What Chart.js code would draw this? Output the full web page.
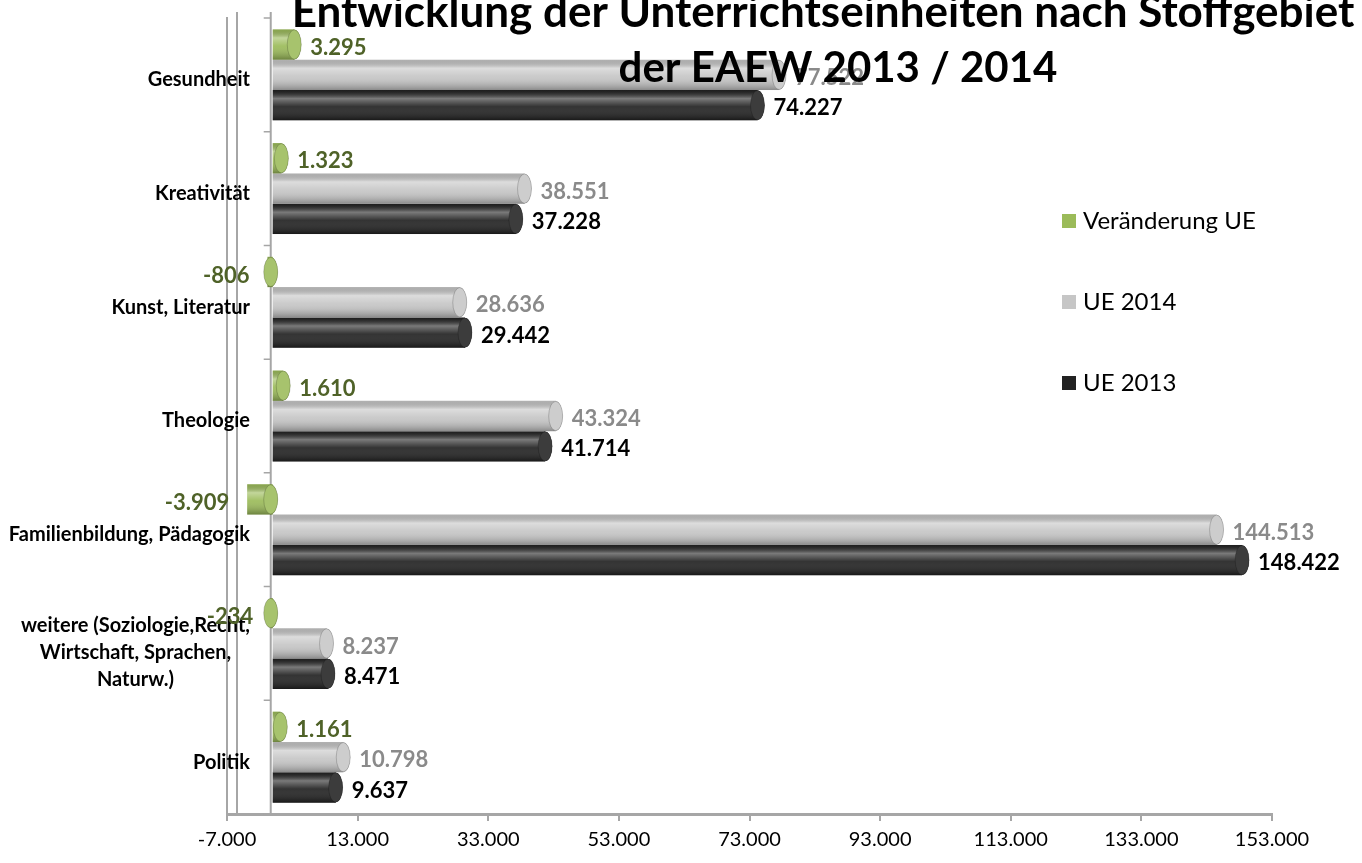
<!DOCTYPE html>
<html lang="de">
<head>
<meta charset="utf-8">
<title>Entwicklung der Unterrichtseinheiten</title>
<script src="https://cdn.jsdelivr.net/npm/chart.js@4.4.1/dist/chart.umd.min.js"></script>
<style>
    html, body { margin: 0; padding: 0; background: #fff; }
    #wrap { width: 1362px; height: 863px; position: relative; }
</style>
</head>
<body>
<div id="wrap"><canvas id="ueChart"></canvas></div>
<script>
const categories = [
    'Gesundheit',
    'Kreativität',
    'Kunst, Literatur',
    'Theologie',
    'Familienbildung, Pädagogik',
    ['weitere (Soziologie,Recht,', 'Wirtschaft, Sprachen,', 'Naturw.)'],
    'Politik'
];
const changeUE = [3295, 1323, -806, 1610, -3909, -234, 1161];
const ue2014 = [77522, 38551, 28636, 43324, 144513, 8237, 10798];
const ue2013 = [74227, 37228, 29442, 41714, 148422, 8471, 9637];
const xTickValues = [-7000, 13000, 33000, 53000, 73000, 93000, 113000, 133000, 153000];

const titleLines = ['Entwicklung der Unterrichtseinheiten nach Stoffgebiet', 'der EAEW 2013 / 2014'];
const seriesNames = ['Veränderung UE', 'UE 2014', 'UE 2013'];
const barColors = ['#9BBB59', '#C6C6C6', '#222222'];
const labelColors = ['#4F6228', '#8A8A8A', '#000000'];

// German number format: 148422 -> 148.422
function fmtDE(v) {
    const s = Math.abs(v).toString().replace(/\B(?=(\d{3})+(?!\d))/g, '.');
    return (v < 0 ? '-' : '') + s;
}

// back wall + zero line with category ticks (3D look)
const frameLines = {
    id: 'frameLines',
    beforeDatasetsDraw(chart) {
        const ctx = chart.ctx;
        const area = chart.chartArea;
        const xs = chart.scales.x;
        const ys = chart.scales.y;
        const zero = xs.getPixelForValue(0) - 2;
        ctx.save();
        ctx.strokeStyle = '#A6A6A6';
        ctx.lineWidth = 2;
        ctx.beginPath();
        ctx.moveTo(area.left + 10, area.top - 6);
        ctx.lineTo(area.left + 10, area.bottom);
        ctx.moveTo(zero, area.top - 6);
        ctx.lineTo(zero, area.bottom);
        ctx.stroke();
        const half = (ys.getPixelForValue(1) - ys.getPixelForValue(0)) / 2;
        ctx.lineWidth = 1.5;
        ctx.beginPath();
        for (let i = 0; i <= categories.length; i++) {
            const yy = ys.getPixelForValue(i) - half;
            ctx.moveTo(zero - 7, yy);
            ctx.lineTo(zero, yy);
        }
        ctx.stroke();

        // category labels: right aligned block, wrapped lines centred on each other
        ctx.fillStyle = '#000';
        ctx.font = 'bold 20px Lato';
        ctx.textBaseline = 'middle';
        ctx.textAlign = 'center';
        categories.forEach((lab, i) => {
            const lines = Array.isArray(lab) ? lab : [lab];
            const w = Math.max(...lines.map(t => ctx.measureText(t).width));
            const cx = 250 - w / 2;
            const cy = ys.getPixelForValue(i) + 5 + (lines.length > 1 ? 4 : 0);
            lines.forEach((t, k) => {
                ctx.fillText(t, cx, cy + (k - (lines.length - 1) / 2) * 27);
            });
        });
        ctx.restore();
    }
};

// cylinder shading on top of the plain bars
const cylinderShade = {
    id: 'cylinderShade',
    afterDatasetsDraw(chart) {
        const ctx = chart.ctx;
        chart.data.datasets.forEach((ds, i) => {
            chart.getDatasetMeta(i).data.forEach(bar => {
                const p = bar.getProps(['x', 'y', 'base', 'height'], true);
                const left = Math.min(p.x, p.base), right = Math.max(p.x, p.base);
                const top = p.y - p.height / 2;
                const shade = (x0, y0) => {
                    const g = ctx.createLinearGradient(0, top, 0, top + p.height);
                    g.addColorStop(0, 'rgba(0,0,0,0.10)');
                    g.addColorStop(0.28, 'rgba(255,255,255,0.40)');
                    g.addColorStop(0.55, 'rgba(255,255,255,0.08)');
                    g.addColorStop(1, 'rgba(0,0,0,0.30)');
                    return g;
                };
                ctx.save();
                // cylinder body
                ctx.fillStyle = shade();
                ctx.fillRect(left, top, Math.max(right - left, 1), p.height);
                // visible end cap on the right side
                const capX = p.x >= p.base ? right : right - 2;
                ctx.beginPath();
                ctx.ellipse(capX, p.y, 7, p.height / 2 - 0.5, 0, -Math.PI / 2, Math.PI / 2);
                ctx.lineTo(capX - 1, p.y + p.height / 2 - 0.5);
                ctx.lineTo(capX - 1, p.y - p.height / 2 + 0.5);
                ctx.closePath();
                ctx.fillStyle = barColors[i];
                ctx.fill();
                ctx.fillStyle = shade();
                ctx.fill();
                ctx.beginPath();
                ctx.ellipse(capX, p.y, 7, p.height / 2 - 0.5, 0, 0, Math.PI * 2);
                ctx.fillStyle = barColors[i];
                ctx.fill();
                ctx.fillStyle = 'rgba(255,255,255,0.12)';
                ctx.fill();
                ctx.strokeStyle = 'rgba(0,0,0,0.18)';
                ctx.lineWidth = 1;
                ctx.stroke();
                ctx.restore();
            });
        });
    }
};

// value labels next to each bar
const valueLabels = {
    id: 'valueLabels',
    afterDatasetsDraw(chart) {
        const ctx = chart.ctx;
        ctx.save();
        ctx.font = 'bold 22px Lato';
        ctx.textBaseline = 'middle';
        chart.data.datasets.forEach((ds, i) => {
            chart.getDatasetMeta(i).data.forEach((bar, j) => {
                const v = ds.data[j];
                const p = bar.getProps(['x', 'y', 'base'], true);
                ctx.fillStyle = labelColors[i];
                if (v >= 0) {
                    ctx.textAlign = 'left';
                    ctx.fillText(fmtDE(v), p.x + 16, p.y + 3);
                } else {
                    ctx.textAlign = 'right';
                    ctx.fillText(fmtDE(v), p.x - 18, p.y + 4);
                }
            });
        });
        ctx.restore();
    }
};

// title and legend drawn over the plot, like the original
const overlayText = {
    id: 'overlayText',
    afterDraw(chart) {
        const ctx = chart.ctx;
        ctx.save();
        ctx.fillStyle = '#000';
        ctx.textAlign = 'center';
        ctx.textBaseline = 'alphabetic';
        ctx.font = 'bold 44px Lato';
        ctx.fillText(titleLines[0], 823, 27);
        ctx.font = 'bold 42px Lato';
        ctx.fillText(titleLines[1], 838, 82);

        ctx.font = '24px Lato';
        ctx.textAlign = 'left';
        ctx.textBaseline = 'middle';
        chart.data.datasets.forEach((ds, i) => {
            const yy = 221 + i * 81;
            ctx.fillStyle = barColors[i];
            ctx.fillRect(1062, yy - 7, 14, 14);
            ctx.fillStyle = '#000';
            ctx.fillText(ds.label, 1083, yy);
        });
        ctx.restore();
    }
};

const ctx = document.getElementById('ueChart').getContext('2d');

const ueChart = new Chart(ctx, {
    type: 'bar',
    data: {
        labels: categories,
        datasets: [
            { label: seriesNames[0], data: changeUE, backgroundColor: barColors[0] },
            { label: seriesNames[1], data: ue2014, backgroundColor: barColors[1] },
            { label: seriesNames[2], data: ue2013, backgroundColor: barColors[2] }
        ]
    },
    options: {
        indexAxis: 'y',
        responsive: true,
        maintainAspectRatio: false,
        animation: false,
        layout: {
            padding: { top: 18, right: 90, bottom: 0, left: 0 }
        },
        datasets: {
            bar: {
                categoryPercentage: 0.8,
                barPercentage: 1.0
            }
        },
        scales: {
            y: {
                type: 'category',
                grid: { display: false, drawTicks: false },
                border: { display: true, color: '#A6A6A6', width: 2 },
                ticks: { display: false },
                afterFit(scale) { scale.width = 227; }
            },
            x: {
                type: 'linear',
                position: 'bottom',
                min: -7000,
                max: 153000,
                afterBuildTicks(scale) {
                    scale.ticks = xTickValues.map(v => ({ value: v }));
                },
                afterFit(scale) { scale.height = 49; },
                ticks: {
                    color: '#000',
                    padding: 7,
                    font: { family: 'Lato', size: 20 },
                    callback: v => fmtDE(v)
                },
                grid: { drawOnChartArea: false, drawTicks: true, tickLength: 7, color: '#A6A6A6', lineWidth: 2 },
                border: { color: '#A6A6A6', width: 3 }
            }
        },
        plugins: {
            legend: { display: false },
            title: { display: false },
            tooltip: { enabled: false }
        }
    },
    plugins: [frameLines, cylinderShade, valueLabels, overlayText]
});
</script>
</body>
</html>
